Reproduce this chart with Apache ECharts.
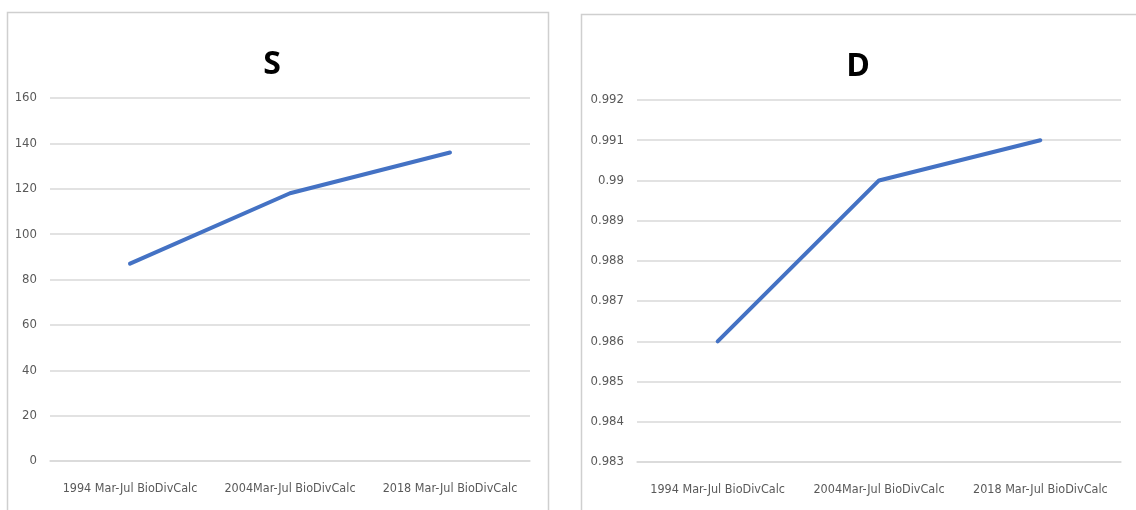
<!DOCTYPE html>
<html>
<head>
<meta charset="utf-8">
<script src="https://cdn.jsdelivr.net/npm/echarts@6/dist/echarts.min.js"></script>
<style>
  html, body { margin: 0; padding: 0; background: #fff; }
  #chart { width: 1136px; height: 510px; }
</style>
</head>
<body>
<div id="chart"></div>
<script>
// Sampling periods shared by both panels
const categories = ['1994 Mar-Jul BioDivCalc', '2004Mar-Jul BioDivCalc', '2018 Mar-Jul BioDivCalc'];
// Species richness (S)
const sValues = [87, 118, 136];
// Diversity index (D)
const dValues = [0.986, 0.990, 0.991];
// Panel titles
const titles = ['S', 'D'];

const labelFont = "'DejaVu Sans Condensed', 'Liberation Sans Narrow', 'Liberation Sans', sans-serif";
const gridColor = '#d9d9d9';
const textColor = '#595959';
const lineColor = '#4472C4';

function catAxis(gridIndex) {
  return {
    type: 'category',
    gridIndex: gridIndex,
    data: categories,
    boundaryGap: true,
    axisLine: { show: true, lineStyle: { color: gridColor, width: 1.5 } },
    axisTick: { show: false },
    axisLabel: { interval: 0, color: textColor, fontFamily: labelFont, fontSize: 12.5, margin: 21 }
  };
}

function valAxis(gridIndex, min, max, interval, fmt) {
  return {
    type: 'value',
    gridIndex: gridIndex,
    min: min,
    max: max,
    interval: interval,
    axisLine: { show: false },
    axisTick: { show: false },
    splitLine: { lineStyle: { color: gridColor, width: 1.5 } },
    axisLabel: { color: textColor, fontFamily: labelFont, fontSize: 13, margin: 13, formatter: fmt }
  };
}

const chart = echarts.init(document.getElementById('chart'), null, { renderer: 'canvas' });
chart.setOption({
  animation: false,
  backgroundColor: '#fff',
  graphic: [
    { type: 'rect', shape: { x: 7.5, y: 12.5, width: 541, height: 510 },
      style: { fill: 'none', stroke: '#cfcfcf', lineWidth: 1.5 }, z: -1 },
    { type: 'rect', shape: { x: 581.5, y: 14.5, width: 570, height: 510 },
      style: { fill: 'none', stroke: '#cfcfcf', lineWidth: 1.5 }, z: -1 }
  ],
  title: [
    { text: titles[0], left: 267, top: 60, textAlign: 'center', textVerticalAlign: 'middle',
      textStyle: { fontFamily: "'Open Sans', 'DejaVu Sans', sans-serif", fontWeight: 'bold', fontSize: 32, color: '#000' } },
    { text: titles[1], left: 853, top: 62, textAlign: 'center', textVerticalAlign: 'middle',
      textStyle: { fontFamily: "'Open Sans', 'DejaVu Sans', sans-serif", fontWeight: 'bold', fontSize: 32, color: '#000' } }
  ],
  grid: [
    { left: 50, right: 606, top: 98, bottom: 49 },
    { left: 637, right: 15, top: 100, bottom: 48 }
  ],
  xAxis: [catAxis(0), catAxis(1)],
  yAxis: [
    valAxis(0, 0, 160, 20, v => String(Math.round(v))),
    valAxis(1, 0.983, 0.992, 0.001, v => String(parseFloat(v.toFixed(3))))
  ],
  series: [
    { type: 'line', xAxisIndex: 0, yAxisIndex: 0, data: sValues, showSymbol: false,
      lineStyle: { color: lineColor, width: 4, cap: 'round', join: 'round' } },
    { type: 'line', xAxisIndex: 1, yAxisIndex: 1, data: dValues, showSymbol: false,
      lineStyle: { color: lineColor, width: 4, cap: 'round', join: 'round' } }
  ]
});
</script>
</body>
</html>
